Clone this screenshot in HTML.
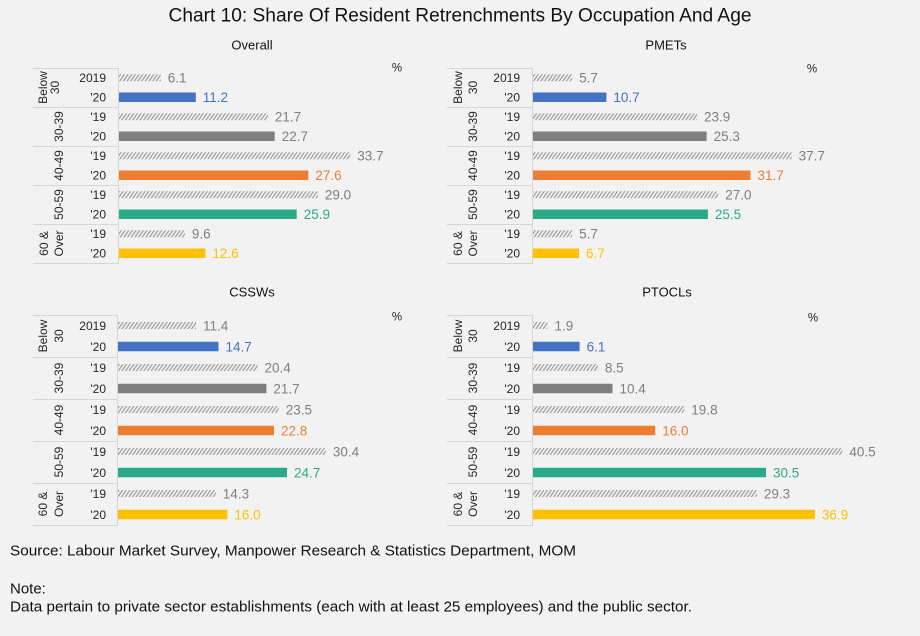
<!DOCTYPE html>
<html><head><meta charset="utf-8">
<style>
html,body{margin:0;padding:0;background:#f2f2f2;}
svg{display:block;font-family:"Liberation Sans",Arial,sans-serif;}
.v{font-size:13.5px;}
.y{font-size:12px;fill:#262626;}
.a{font-size:12px;fill:#262626;}
.t{font-size:13px;fill:#111;}
.p{font-size:11.5px;fill:#262626;}
.g{fill:#7f7f7f;}
.ln{stroke:#d6d6d6;stroke-width:1;}
</style></head>
<body>
<svg width="920" height="636" viewBox="0 0 920 636" xmlns="http://www.w3.org/2000/svg">
<defs>
<pattern id="h" width="3" height="3" patternUnits="userSpaceOnUse" patternTransform="rotate(35)">
<line x1="0.6" y1="0" x2="0.6" y2="3" stroke="#8a8a8a" stroke-width="1"/>
</pattern>
</defs>
<rect width="920" height="636" fill="#f2f2f2"/>

<text x="460" y="21.5" text-anchor="middle" font-size="19" fill="#111" textLength="583" lengthAdjust="spacingAndGlyphs">Chart 10: Share Of Resident Retrenchments By Occupation And Age</text>

<!-- ============ TOP-LEFT: Overall ============ -->
<text class="t" x="252" y="49.5" text-anchor="middle">Overall</text>
<text class="p" x="397" y="71.5" text-anchor="middle">%</text>
<g class="ln">
<line x1="33" y1="68.5" x2="118.5" y2="68.5"/>
<line x1="33" y1="107.5" x2="118.5" y2="107.5"/>
<line x1="33" y1="146.5" x2="118.5" y2="146.5"/>
<line x1="33" y1="185.5" x2="118.5" y2="185.5"/>
<line x1="33" y1="224.5" x2="118.5" y2="224.5"/>
<line x1="33" y1="263.5" x2="118.5" y2="263.5"/>
<line x1="118.5" y1="68" x2="118.5" y2="264"/>
</g>
<g class="y" text-anchor="end">
<text x="106" y="82">2019</text><text x="106" y="101.5">'20</text>
<text x="106" y="121">'19</text><text x="106" y="140.5">'20</text>
<text x="106" y="160">'19</text><text x="106" y="179.5">'20</text>
<text x="106" y="199">'19</text><text x="106" y="218.5">'20</text>
<text x="106" y="238">'19</text><text x="106" y="257.5">'20</text>
</g>
<g class="a" text-anchor="middle" dominant-baseline="central">
<text transform="translate(43,87.5) rotate(-90)">Below</text>
<text transform="translate(55,87.5) rotate(-90)">30</text>
<text transform="translate(59,126.5) rotate(-90)">30-39</text>
<text transform="translate(59,165.5) rotate(-90)">40-49</text>
<text transform="translate(59,204.5) rotate(-90)">50-59</text>
<text transform="translate(44,243.5) rotate(-90)">60 &amp;</text>
<text transform="translate(59,243.5) rotate(-90)">Over</text>
</g>
<g fill="url(#h)">
<rect x="119" y="74.25" width="41.8" height="7"/>
<rect x="119" y="113.25" width="148.9" height="7"/>
<rect x="119" y="152.25" width="231.2" height="7"/>
<rect x="119" y="191.25" width="198.9" height="7"/>
<rect x="119" y="230.25" width="65.9" height="7"/>
</g>
<rect x="119" y="92.5" width="76.8" height="9.5" fill="#4472c4"/>
<rect x="119" y="131.5" width="155.7" height="9.5" fill="#7f7f7f"/>
<rect x="119" y="170.5" width="189.3" height="9.5" fill="#ed7d31"/>
<rect x="119" y="209.5" width="177.7" height="9.5" fill="#2baa8a"/>
<rect x="119" y="248.5" width="86.4" height="9.5" fill="#ffc000"/>
<g class="v">
<text class="g" x="167.8" y="82.5">6.1</text>
<text class="g" x="274.9" y="121.5">21.7</text>
<text class="g" x="357.2" y="160.5">33.7</text>
<text class="g" x="324.9" y="199.5">29.0</text>
<text class="g" x="191.9" y="238.5">9.6</text>
<text x="202.8" y="102" fill="#4472c4">11.2</text>
<text x="281.7" y="141" fill="#7f7f7f">22.7</text>
<text x="315.3" y="180" fill="#ed7d31">27.6</text>
<text x="303.7" y="219" fill="#2baa8a">25.9</text>
<text x="212.4" y="258" fill="#ffc000">12.6</text>
</g>

<!-- ============ TOP-RIGHT: PMETs ============ -->
<text class="t" x="666" y="49.5" text-anchor="middle">PMETs</text>
<text class="p" x="812" y="72.5" text-anchor="middle">%</text>
<g class="ln">
<line x1="447" y1="68.5" x2="532.5" y2="68.5"/>
<line x1="447" y1="107.5" x2="532.5" y2="107.5"/>
<line x1="447" y1="146.5" x2="532.5" y2="146.5"/>
<line x1="447" y1="185.5" x2="532.5" y2="185.5"/>
<line x1="447" y1="224.5" x2="532.5" y2="224.5"/>
<line x1="447" y1="263.5" x2="532.5" y2="263.5"/>
<line x1="532.5" y1="68" x2="532.5" y2="264"/>
</g>
<g class="y" text-anchor="end">
<text x="520" y="82">2019</text><text x="520" y="101.5">'20</text>
<text x="520" y="121">'19</text><text x="520" y="140.5">'20</text>
<text x="520" y="160">'19</text><text x="520" y="179.5">'20</text>
<text x="520" y="199">'19</text><text x="520" y="218.5">'20</text>
<text x="520" y="238">'19</text><text x="520" y="257.5">'20</text>
</g>
<g class="a" text-anchor="middle" dominant-baseline="central">
<text transform="translate(458,87.5) rotate(-90)">Below</text>
<text transform="translate(473,87.5) rotate(-90)">30</text>
<text transform="translate(473,126.5) rotate(-90)">30-39</text>
<text transform="translate(473,165.5) rotate(-90)">40-49</text>
<text transform="translate(473,204.5) rotate(-90)">50-59</text>
<text transform="translate(458,243.5) rotate(-90)">60 &amp;</text>
<text transform="translate(473,243.5) rotate(-90)">Over</text>
</g>
<g fill="url(#h)">
<rect x="533" y="74.25" width="39.1" height="7"/>
<rect x="533" y="113.25" width="164.0" height="7"/>
<rect x="533" y="152.25" width="258.6" height="7"/>
<rect x="533" y="191.25" width="185.2" height="7"/>
<rect x="533" y="230.25" width="39.1" height="7"/>
</g>
<rect x="533" y="92.5" width="73.4" height="9.5" fill="#4472c4"/>
<rect x="533" y="131.5" width="173.6" height="9.5" fill="#7f7f7f"/>
<rect x="533" y="170.5" width="217.5" height="9.5" fill="#ed7d31"/>
<rect x="533" y="209.5" width="174.9" height="9.5" fill="#2baa8a"/>
<rect x="533" y="248.5" width="46.0" height="9.5" fill="#ffc000"/>
<g class="v">
<text class="g" x="579.1" y="82.5">5.7</text>
<text class="g" x="704.0" y="121.5">23.9</text>
<text class="g" x="798.6" y="160.5">37.7</text>
<text class="g" x="725.2" y="199.5">27.0</text>
<text class="g" x="579.1" y="238.5">5.7</text>
<text x="613.4" y="102" fill="#4472c4">10.7</text>
<text x="713.6" y="141" fill="#7f7f7f">25.3</text>
<text x="757.5" y="180" fill="#ed7d31">31.7</text>
<text x="714.9" y="219" fill="#2baa8a">25.5</text>
<text x="586.0" y="258" fill="#ffc000">6.7</text>
</g>

<!-- ============ BOTTOM-LEFT: CSSWs ============ -->
<text class="t" x="252" y="296.5" text-anchor="middle">CSSWs</text>
<text class="p" x="397" y="320.5" text-anchor="middle">%</text>
<g class="ln">
<line x1="33" y1="315.5" x2="117.5" y2="315.5"/>
<line x1="33" y1="357.5" x2="117.5" y2="357.5"/>
<line x1="33" y1="399.5" x2="117.5" y2="399.5"/>
<line x1="33" y1="441.5" x2="117.5" y2="441.5"/>
<line x1="33" y1="483.5" x2="117.5" y2="483.5"/>
<line x1="33" y1="525.5" x2="117.5" y2="525.5"/>
<line x1="117.5" y1="315" x2="117.5" y2="526"/>
</g>
<g class="y" text-anchor="end">
<text x="106" y="330">2019</text><text x="106" y="351">'20</text>
<text x="106" y="372">'19</text><text x="106" y="393">'20</text>
<text x="106" y="414">'19</text><text x="106" y="435">'20</text>
<text x="106" y="456">'19</text><text x="106" y="477">'20</text>
<text x="106" y="498">'19</text><text x="106" y="519">'20</text>
</g>
<g class="a" text-anchor="middle" dominant-baseline="central">
<text transform="translate(43,336) rotate(-90)">Below</text>
<text transform="translate(59,336) rotate(-90)">30</text>
<text transform="translate(59,378) rotate(-90)">30-39</text>
<text transform="translate(59,420) rotate(-90)">40-49</text>
<text transform="translate(59,462) rotate(-90)">50-59</text>
<text transform="translate(43,504) rotate(-90)">60 &amp;</text>
<text transform="translate(59,504) rotate(-90)">Over</text>
</g>
<g fill="url(#h)">
<rect x="118" y="322" width="78.0" height="7"/>
<rect x="118" y="364" width="139.5" height="7"/>
<rect x="118" y="406" width="160.7" height="7"/>
<rect x="118" y="448" width="207.9" height="7"/>
<rect x="118" y="490" width="97.8" height="7"/>
</g>
<rect x="118" y="341.75" width="100.5" height="9.5" fill="#4472c4"/>
<rect x="118" y="383.75" width="148.4" height="9.5" fill="#7f7f7f"/>
<rect x="118" y="425.75" width="156.0" height="9.5" fill="#ed7d31"/>
<rect x="118" y="467.75" width="169.0" height="9.5" fill="#2baa8a"/>
<rect x="118" y="509.75" width="109.4" height="9.5" fill="#ffc000"/>
<g class="v">
<text class="g" x="203.0" y="330.3">11.4</text>
<text class="g" x="264.5" y="372.3">20.4</text>
<text class="g" x="285.7" y="414.3">23.5</text>
<text class="g" x="332.9" y="456.3">30.4</text>
<text class="g" x="222.8" y="498.3">14.3</text>
<text x="225.5" y="351.3" fill="#4472c4">14.7</text>
<text x="273.4" y="393.3" fill="#7f7f7f">21.7</text>
<text x="281.0" y="435.3" fill="#ed7d31">22.8</text>
<text x="294.0" y="477.3" fill="#2baa8a">24.7</text>
<text x="234.4" y="519.3" fill="#ffc000">16.0</text>
</g>

<!-- ============ BOTTOM-RIGHT: PTOCLs ============ -->
<text class="t" x="667" y="296.5" text-anchor="middle">PTOCLs</text>
<text class="p" x="813" y="321.5" text-anchor="middle">%</text>
<g class="ln">
<line x1="447" y1="315.5" x2="532.5" y2="315.5"/>
<line x1="447" y1="357.5" x2="532.5" y2="357.5"/>
<line x1="447" y1="399.5" x2="532.5" y2="399.5"/>
<line x1="447" y1="441.5" x2="532.5" y2="441.5"/>
<line x1="447" y1="483.5" x2="532.5" y2="483.5"/>
<line x1="447" y1="525.5" x2="532.5" y2="525.5"/>
<line x1="532.5" y1="315" x2="532.5" y2="526"/>
</g>
<g class="y" text-anchor="end">
<text x="520" y="330">2019</text><text x="520" y="351">'20</text>
<text x="520" y="372">'19</text><text x="520" y="393">'20</text>
<text x="520" y="414">'19</text><text x="520" y="435">'20</text>
<text x="520" y="456">'19</text><text x="520" y="477">'20</text>
<text x="520" y="498">'19</text><text x="520" y="519">'20</text>
</g>
<g class="a" text-anchor="middle" dominant-baseline="central">
<text transform="translate(458,336) rotate(-90)">Below</text>
<text transform="translate(473,336) rotate(-90)">30</text>
<text transform="translate(473,378) rotate(-90)">30-39</text>
<text transform="translate(473,420) rotate(-90)">40-49</text>
<text transform="translate(473,462) rotate(-90)">50-59</text>
<text transform="translate(458,504) rotate(-90)">60 &amp;</text>
<text transform="translate(473,504) rotate(-90)">Over</text>
</g>
<g fill="url(#h)">
<rect x="533" y="322" width="14.5" height="7"/>
<rect x="533" y="364" width="64.9" height="7"/>
<rect x="533" y="406" width="151.3" height="7"/>
<rect x="533" y="448" width="309.4" height="7"/>
<rect x="533" y="490" width="223.9" height="7"/>
</g>
<rect x="533" y="341.75" width="46.6" height="9.5" fill="#4472c4"/>
<rect x="533" y="383.75" width="79.5" height="9.5" fill="#7f7f7f"/>
<rect x="533" y="425.75" width="122.2" height="9.5" fill="#ed7d31"/>
<rect x="533" y="467.75" width="233.0" height="9.5" fill="#2baa8a"/>
<rect x="533" y="509.75" width="281.9" height="9.5" fill="#ffc000"/>
<g class="v">
<text class="g" x="554.5" y="330.3">1.9</text>
<text class="g" x="604.9" y="372.3">8.5</text>
<text class="g" x="691.3" y="414.3">19.8</text>
<text class="g" x="849.4" y="456.3">40.5</text>
<text class="g" x="763.9" y="498.3">29.3</text>
<text x="586.6" y="351.3" fill="#4472c4">6.1</text>
<text x="619.5" y="393.3" fill="#7f7f7f">10.4</text>
<text x="662.2" y="435.3" fill="#ed7d31">16.0</text>
<text x="773.0" y="477.3" fill="#2baa8a">30.5</text>
<text x="821.9" y="519.3" fill="#ffc000">36.9</text>
</g>

<!-- ============ Footer ============ -->
<text x="10" y="555.5" font-size="15" fill="#111" textLength="566" lengthAdjust="spacingAndGlyphs">Source: Labour Market Survey, Manpower Research &amp; Statistics Department, MOM</text>
<text x="10" y="593.5" font-size="15" fill="#111">Note:</text>
<text x="10" y="611.5" font-size="15" fill="#111" textLength="682" lengthAdjust="spacingAndGlyphs">Data pertain to private sector establishments (each with at least 25 employees) and the public sector.</text>
</svg>
</body></html>
